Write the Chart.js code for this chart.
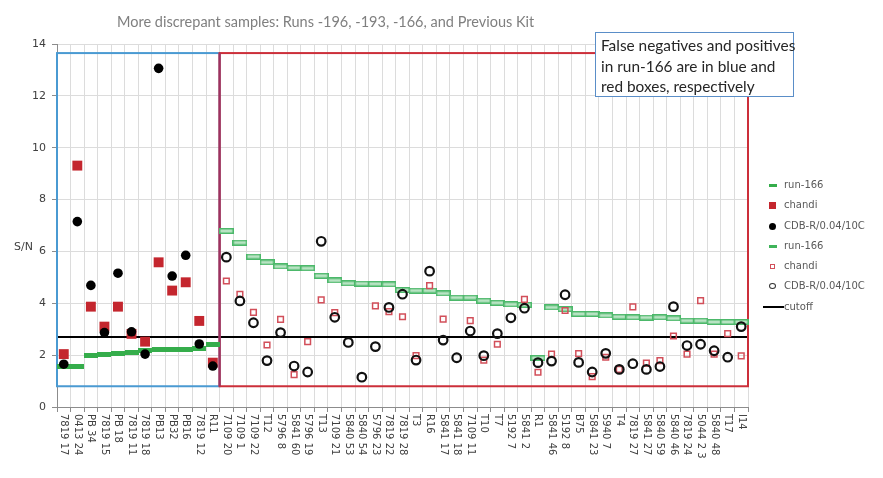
<!DOCTYPE html>
<html>
<head>
<meta charset="utf-8">
<script src="https://cdn.jsdelivr.net/npm/chart.js@4.4.1/dist/chart.umd.min.js"></script>
<style>
  html, body { margin: 0; padding: 0; background: #fff; }
  #wrap { position: relative; width: 883px; height: 478px; overflow: hidden; }
  #chart { position: absolute; left: 0; top: 0; }
  #title { position: absolute; left: 117px; top: 13px; font: 14.5px Lato, sans-serif; color: #7f7f7f; white-space: nowrap; }
  #ylab { position: absolute; left: 14px; top: 240px; font: 11px "DejaVu Sans", sans-serif; color: #404040; }
  #note { position: absolute; left: 595px; top: 32px; width: 192px; height: 61px; border: 1.5px solid #5a8ec8;
          background: #fff; padding: 2px 0 0 5px; font: 15.4px Lato, sans-serif; line-height: 20.5px; color: #262626;
          white-space: nowrap; }
  #legend { position: absolute; left: 760px; top: 175px; width: 106px; overflow: hidden; font: 10px "DejaVu Sans", sans-serif; color: #595959; }
  .row { position: relative; height: 20.3px; line-height: 20.3px; padding-left: 24px; white-space: nowrap; }
  .sym { position: absolute; box-sizing: border-box; }
</style>
</head>
<body>
<div id="wrap">
  <canvas id="chart" width="883" height="478"></canvas>
  <div id="title">More discrepant samples: Runs -196, -193, -166, and Previous Kit</div>
  <div id="ylab">S/N</div>
  <div id="legend"></div>
  <div id="note">False negatives and positives<br>in run-166 are in blue and<br>red boxes, respectively</div>
</div>
<script>
// sample ids along the x axis
const sampleLabels = [
  '7819 17', '0413 24', 'PB 34', '7819 15', 'PB 18', '7819 11', '7819 18', 'PB13', 'PB32', 'PB16', '7819 12', 'R11',
  '7109 20', '7109 1', '7109 22', 'T12', '5796 8', '5841 60', '5796 19', 'T13', '7109 21', '5840 53', '5840 54',
  '5796 23', '7819 22', '7819 28', 'T3', 'R16', '5841 17', '5841 18', '7109 11', 'T10', 'T7', '5192 7', '5841 2',
  'R1', '5841 46', '5192 8', 'B75', '5841 23', '5940 7', 'T4', '7819 27', '5841 27', '5840 59', '5840 46',
  '7819 24', '5044 2 3', '5840 48', 'T17', 'I14'
];

// false negatives (first 12 samples, blue box)
const run166Neg = [1.58, 1.58, 2.0, 2.03, 2.05, 2.12, 2.18, 2.2, 2.2, 2.2, 2.25, 2.42];
const chandiNeg = [2.04, 9.31, 3.87, 3.1, 3.87, 2.82, 2.52, 5.58, 4.49, 4.81, 3.32, 1.71];
const cdbNeg    = [1.65, 7.15, 4.69, 2.87, 5.16, 2.9, 2.04, 13.06, 5.05, 5.85, 2.43, 1.58];

// false positives (remaining 39 samples, red box)
const run166Pos = [6.79, 6.34, 5.8, 5.58, 5.42, 5.37, 5.35, 5.06, 4.88, 4.77, 4.76, 4.75, 4.73, 4.51, 4.49,
                   4.49, 4.38, 4.22, 4.22, 4.1, 4.02, 3.96, 3.94, 1.89, 3.84, 3.77, 3.59, 3.59, 3.53, 3.48,
                   3.46, 3.45, 3.46, 3.42, 3.33, 3.33, 3.28, 3.28, 3.28];
const chandiPos = [4.86, 4.35, 3.65, 2.39, 3.38, 1.25, 2.52, 4.13, 3.64, null, null, 3.9, 3.68, 3.48, 1.98,
                   4.68, 3.39, null, 3.33, 1.81, 2.42, null, 4.15, 1.34, 2.04, 3.72, 2.06, 1.17, 1.92, 1.45,
                   3.86, 1.69, 1.79, 2.74, 2.04, 4.1, 2.04, 2.83, 1.97];
const cdbPos    = [5.78, 4.09, 3.25, 1.79, 2.87, 1.58, 1.35, 6.39, 3.46, 2.49, 1.15, 2.33, 3.84, 4.35, 1.81,
                   5.24, 2.58, 1.9, 2.93, 1.98, 2.83, 3.44, 3.81, 1.71, 1.77, 4.33, 1.72, 1.35, 2.07, 1.45,
                   1.67, 1.45, 1.56, 3.87, 2.37, 2.42, 2.17, 1.92, 3.1];

const cutoff = 2.7;
const boxTop = 13.65;
const boxBottom = 0.8;
const yTicks = [0, 2, 4, 6, 8, 10, 12, 14];

const negPad = Array(run166Pos.length).fill(null);
const posPad = Array(run166Neg.length).fill(null);

function barMark(w, h, fill, stroke) {
  const c = document.createElement('canvas');
  c.width = w; c.height = h;
  const g = c.getContext('2d');
  g.fillStyle = fill;
  g.fillRect(0, 0, w, h);
  if (stroke) {
    g.strokeStyle = stroke;
    g.lineWidth = 1.5;
    g.strokeRect(0.75, 0.75, w - 1.5, h - 1.5);
  }
  return c;
}

const GREEN = '#35ad4b';
const RED = '#c4262e';
const PINK = '#d24f5a';

function markers(label, data, style, extra) {
  return Object.assign({
    label, data, showLine: false, pointStyle: style,
    pointHoverRadius: 0
  }, extra);
}

const datasets = [
  markers('CDB-R/0.04/10C', cdbNeg.concat(negPad), 'circle',
    { pointRadius: 4.8, pointBackgroundColor: '#000', pointBorderColor: '#000', pointBorderWidth: 0 }),
  markers('CDB-R/0.04/10C', posPad.concat(cdbPos), 'circle',
    { pointRadius: 4.3, pointBackgroundColor: 'rgba(0,0,0,0)', pointBorderColor: '#111', pointBorderWidth: 2.2 }),
  markers('chandi', chandiNeg.concat(negPad), 'rect',
    { pointRadius: 7, pointBackgroundColor: RED, pointBorderColor: RED, pointBorderWidth: 0 }),
  markers('chandi', posPad.concat(chandiPos), 'rect',
    { pointRadius: 4, pointBackgroundColor: 'rgba(0,0,0,0)', pointBorderColor: PINK, pointBorderWidth: 1.5 }),
  markers('run-166', run166Neg.concat(negPad), barMark(14, 5, GREEN)),
  markers('run-166', posPad.concat(run166Pos), barMark(15, 6, '#b8e3c3', '#4cb86a'))
];

// cutoff line and the blue / red boxes
const overlayPlugin = {
  id: 'overlay',
  beforeDatasetsDraw(chart) {
    const { ctx, chartArea: a, scales: { x, y } } = chart;
    const split = (x.getPixelForValue(run166Neg.length - 1) + x.getPixelForValue(run166Neg.length)) / 2;
    const top = y.getPixelForValue(boxTop);
    const bot = y.getPixelForValue(boxBottom);
    ctx.save();
    ctx.lineWidth = 2;
    ctx.strokeStyle = '#000';
    const yc = y.getPixelForValue(cutoff);
    ctx.beginPath();
    ctx.moveTo(a.left, yc);
    ctx.lineTo(a.right, yc);
    ctx.stroke();

    ctx.strokeStyle = '#4a9ad2';
    ctx.strokeRect(a.left, top, split - a.left, bot - top);
    ctx.strokeStyle = '#cc2f3a';
    ctx.strokeRect(split, top, a.right - split, bot - top);
    ctx.strokeStyle = '#9e3160';
    ctx.beginPath();
    ctx.moveTo(split, top);
    ctx.lineTo(split, bot);
    ctx.stroke();
    ctx.restore();
  },
  afterDraw(chart) {
    // x labels read top-to-bottom
    const { ctx, chartArea: a, scales: { x } } = chart;
    ctx.save();
    ctx.font = '10px "DejaVu Sans"';
    ctx.fillStyle = '#404040';
    ctx.textAlign = 'left';
    ctx.textBaseline = 'middle';
    sampleLabels.forEach((lab, i) => {
      ctx.save();
      ctx.translate(x.getPixelForValue(i), a.bottom + 7);
      ctx.rotate(Math.PI / 2);
      ctx.fillText(lab, 0, 0);
      ctx.restore();
    });
    ctx.restore();
  }
};

new Chart(document.getElementById('chart'), {
  type: 'line',
  data: { labels: sampleLabels, datasets },
  options: {
    responsive: false,
    animation: false,
    events: [],
    layout: { padding: { left: 0, top: 44, right: 135, bottom: 0 } },
    plugins: { legend: { display: false }, tooltip: { enabled: false } },
    scales: {
      x: {
        type: 'category',
        offset: true,
        grid: { offset: true, color: '#dcdcdc', tickLength: 5, tickColor: '#8c8c8c' },
        border: { color: '#8c8c8c' },
        ticks: { display: false },
        afterFit: s => { s.height = 71; }
      },
      y: {
        min: 0,
        max: 14,
        afterBuildTicks: s => { s.ticks = yTicks.map(v => ({ value: v })); },
        grid: { color: '#dcdcdc', tickLength: 5, tickColor: '#8c8c8c' },
        border: { color: '#8c8c8c' },
        ticks: { color: '#404040', font: { family: 'DejaVu Sans', size: 11 }, padding: 6 },
        afterFit: s => { s.width = 57; }
      }
    }
  },
  plugins: [overlayPlugin]
});

// legend
const legendItems = [
  ['run-166', 'left:9px;top:9px;width:8px;height:3px;background:' + GREEN],
  ['chandi', 'left:9px;top:7px;width:7px;height:7px;background:' + RED],
  ['CDB-R/0.04/10C', 'left:9px;top:7px;width:7px;height:7px;border-radius:50%;background:#000'],
  ['run-166', 'left:9px;top:9px;width:8px;height:3px;background:#3fb45a'],
  ['chandi', 'left:10px;top:8px;width:5px;height:5px;border:1px solid ' + PINK],
  ['CDB-R/0.04/10C', 'left:9px;top:7px;width:7px;height:6px;border-radius:50%;border:1.2px solid #333'],
  ['cutoff', 'left:3px;top:9px;width:21px;height:2px;background:#000']
];
const legend = document.getElementById('legend');
legendItems.forEach(([text, css]) => {
  const row = document.createElement('div');
  row.className = 'row';
  row.innerHTML = '<span class="sym" style="' + css + '"></span>' + text;
  legend.appendChild(row);
});
</script>
</body>
</html>
